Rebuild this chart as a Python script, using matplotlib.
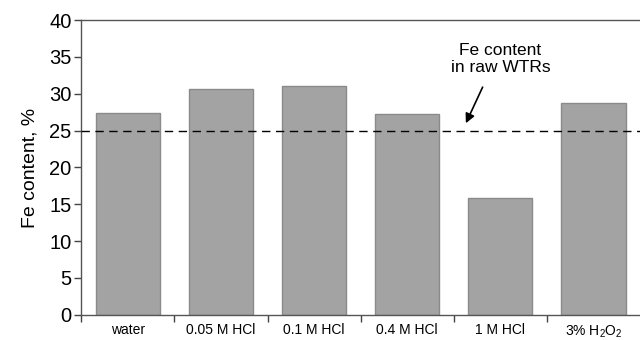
import matplotlib
matplotlib.use("Agg")
import matplotlib.pyplot as plt
import numpy as np

plt.rcParams["font.family"] = ["Liberation Sans", "DejaVu Sans"]
plt.rcParams["mathtext.default"] = "regular"

CATEGORIES = ["water", "0.05 M HCl", "0.1 M HCl", "0.4 M HCl", "1 M HCl", r"3% H$_2$O$_2$"]
FE_CONTENT = [27.4, 30.7, 31.0, 27.25, 15.8, 28.7]
RAW_WTR_FE = 25.0
Y_TICKS = [0, 5, 10, 15, 20, 25, 30, 35, 40]


def main() -> None:
    fig = plt.figure(figsize=(6.4, 3.4), dpi=100)
    ax = fig.add_axes([0.127, 0.074, 0.873, 0.867])

    x = np.arange(len(CATEGORIES))
    ax.bar(x, FE_CONTENT, width=0.69, color="#a3a3a3", edgecolor="#8a8a8a", linewidth=1.0, zorder=2)
    ax.axhline(RAW_WTR_FE, color="black", linestyle=(0, (6, 4)), linewidth=1.0, zorder=3)

    # label and arrow pointing at the raw-WTR reference line
    ax.text(4.0, 36.9, "Fe content\nin raw WTRs", ha="center", va="top",
            fontsize=12.5, linespacing=1.15)
    ax.annotate(
        "", xy=(3.63, 26.0), xytext=(3.81, 30.9),
        arrowprops=dict(arrowstyle="-|>", color="black", lw=1.2, mutation_scale=14,
                        shrinkA=0, shrinkB=0),
    )

    ax.set_xlim(-0.5, len(CATEGORIES) - 0.5)
    ax.set_ylim(0, 40)
    ax.set_yticks(Y_TICKS)
    ax.set_xticks(x)
    ax.set_xticklabels(CATEGORIES, fontsize=10)
    ax.set_xticks(np.arange(len(CATEGORIES)) - 0.5, minor=True)
    ax.tick_params(axis="x", which="major", length=0, pad=6)
    ax.tick_params(axis="x", which="minor", length=5, width=1.0, color="#444444", direction="out")
    ax.tick_params(axis="y", length=5, width=1.0, color="#444444", labelsize=14.5, pad=2)
    ax.set_ylabel("Fe content, %", fontsize=14, labelpad=8)

    for side in ["left", "bottom", "top"]:
        ax.spines[side].set_color("#555555")
        ax.spines[side].set_linewidth(1.0)
    ax.spines["right"].set_visible(False)

    plt.savefig("out.png", dpi=100)


if __name__ == "__main__":
    main()
